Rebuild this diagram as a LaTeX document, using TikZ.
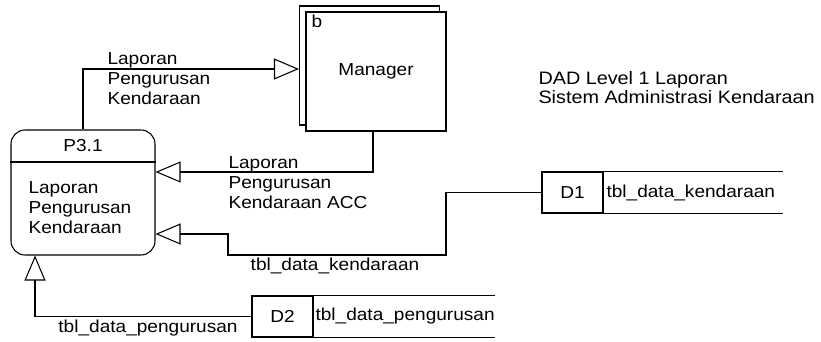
\documentclass[tikz,border=0pt]{standalone}
\usepackage{fontspec}
\setmainfont{Liberation Sans}[FakeStretch=1.1]
\usetikzlibrary{arrows.meta}

\begin{document}
\begin{tikzpicture}[
    x=0.75pt, y=-0.75pt,
    line width=0.8pt,
    every node/.style={font=\fontsize{13}{15}\selectfont, inner sep=0pt},
    process/.style={draw, rounded corners=10.5pt, minimum width=108pt, minimum height=93.75pt},
    entity/.style={draw, fill=white, minimum width=105pt, minimum height=89.25pt},
    storeid/.style={draw, minimum width=45.75pt, minimum height=30.75pt},
    flow/.style={-{Triangle[open, length=18.75pt, width=15.75pt]}}
  ]
  \useasboundingbox (0,0) rectangle (821,342);

  % external entity
  \node (mgrback) [entity] at (369.5,65.5) {};
  \node (mgr) [entity] at (376,71.5) {Manager};
  \node (mgrtag) at (317,21) {b};

  % process
  \node (p31) [process] at (83,192.5) {};
  \node (p31id) at (83,146) {P3.1};
  \node (p31name) [anchor=west, align=left] at (28,208) {Laporan\\Pengurusan\\Kendaraan};
  \coordinate (p31cut) at (83,162);
  \draw (p31.west |- p31cut) -- (p31.east |- p31cut);

  % data stores
  \node (d1) [storeid] at (572.5,192.5) {D1};
  \node (d1name) [anchor=west] at (606,192.5) {tbl\_data\_kendaraan};
  \coordinate (d1end) at (783,192.5);
  \draw (d1.north east) -- (d1.north east -| d1end);
  \draw (d1.south east) -- (d1.south east -| d1end);

  \node (d2) [storeid] at (282.5,316.5) {D2};
  \node (d2name) [anchor=west] at (315,316.5) {tbl\_data\_pengurusan};
  \coordinate (d2end) at (495,316.5);
  \draw (d2.north east) -- (d2.north east -| d2end);
  \draw (d2.south east) -- (d2.south east -| d2end);

  % flows
  \coordinate (f1) at (83,69);
  \draw[flow] (p31.north) |- (mgrback.west |- f1);
  \node (f1label) [anchor=west, align=left] at (107,79) {Laporan\\Pengurusan\\Kendaraan};

  \coordinate (f2) at (373,172);
  \draw[flow] (mgr.south -| f2) -- (f2) -- (p31.east |- f2);
  \node (f2label) [anchor=west, align=left] at (228,183) {Laporan\\Pengurusan\\Kendaraan ACC};

  \coordinate (f3a) at (446,255);
  \coordinate (f3b) at (228,234);
  \draw[flow] (d1.west) -| (f3a) -| (f3b) -- (p31.east |- f3b);
  \node (f3label) at (335,266) {tbl\_data\_kendaraan};

  \coordinate (f4) at (35,255);
  \draw[flow] (d2.west) -| (p31.south -| f4);
  \node (f4label) at (148,328) {tbl\_data\_pengurusan};

  % title
  \node (title) [anchor=west, align=left, font=\fontsize{13.5}{14.25}\selectfont] at (538,87.5)
    {DAD Level 1 Laporan\\Sistem Administrasi Kendaraan};
\end{tikzpicture}
\end{document}
